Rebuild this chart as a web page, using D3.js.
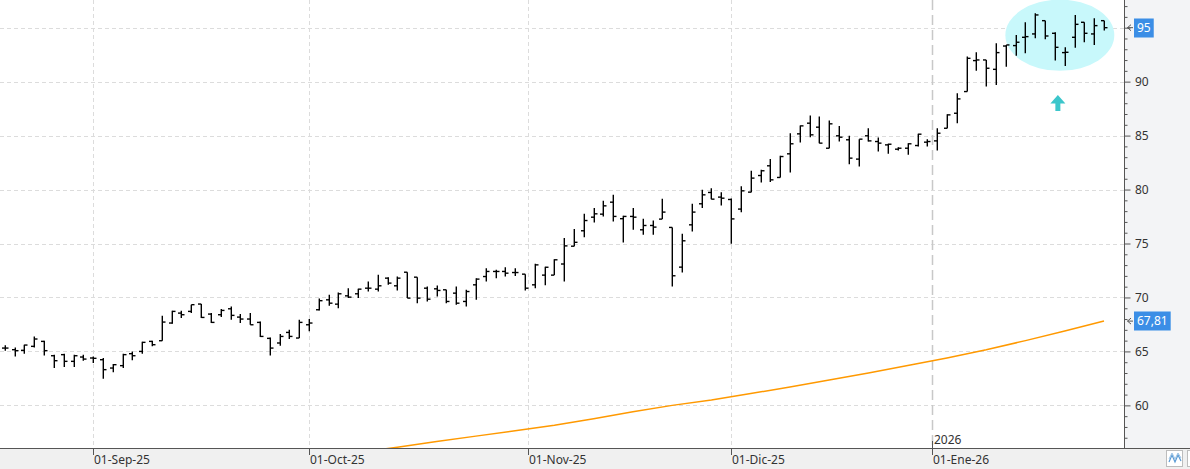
<!DOCTYPE html>
<html>
<head>
<meta charset="utf-8">
<script src="https://cdn.jsdelivr.net/npm/d3@7"></script>
<style>
  html, body { margin: 0; padding: 0; background: #fff; }
  svg { display: block; font-family: "Segoe UI", "Noto Sans", "DejaVu Sans", sans-serif; }
</style>
</head>
<body>
<svg id="chart" width="1190" height="469"></svg>
<script>
// ---------- DATA ----------
const startDate = "2025-08-19";
const holidays = ["2025-12-25", "2025-12-26", "2026-01-01"];
const barCount = 113;

const openV = [65.31,65.16,65.10,65.47,65.93,64.60,64.70,64.08,64.48,64.39,64.23,63.46,63.68,64.79,65.00,65.93,65.99,67.63,68.55,68.71,
  69.39,68.46,68.40,68.95,68.18,68.00,67.69,66.21,65.78,66.76,66.24,67.47,68.86,69.78,69.38,70.15,70.34,70.86,70.77,71.79,
  71.08,72.34,71.88,70.86,70.80,70.71,70.40,69.63,71.17,71.94,72.41,72.41,72.31,72.16,71.17,72.07,72.07,73.10,74.75,76.18,
  77.44,77.72,78.83,77.30,77.51,76.27,76.67,77.26,76.49,72.81,76.73,78.68,79.73,79.30,79.08,78.19,79.76,81.30,82.20,81.12,
  83.31,85.16,86.15,85.78,83.83,84.98,84.61,82.82,84.98,84.45,84.14,83.74,83.83,84.08,84.39,84.51,85.68,87.07,89.08,91.95,
  92.01,91.14,93.30,93.34,94.11,94.42,95.65,94.48,92.69,94.11,95.50,94.42,95.65];
const highV = [65.56,65.37,65.62,66.39,65.99,64.70,64.79,64.70,64.70,64.54,64.39,63.83,64.79,65.00,65.90,65.99,68.31,68.77,68.77,69.33,
  69.39,68.55,68.92,69.17,68.46,68.55,67.78,66.30,66.61,67.01,67.94,68.00,69.90,70.25,70.46,70.86,70.80,71.48,72.10,71.88,
  71.94,72.34,71.88,71.02,71.11,70.71,71.02,70.71,71.79,72.71,72.56,72.81,72.71,72.16,73.12,72.84,73.55,75.52,76.35,77.75,
  78.28,78.96,79.51,77.57,78.28,77.29,77.13,79.14,76.49,75.90,78.68,79.97,80.13,79.76,79.17,80.30,81.74,81.83,82.82,83.13,
  85.22,85.93,86.86,86.77,86.40,85.90,84.98,84.67,85.69,84.82,84.24,83.93,84.30,85.16,84.67,85.69,86.98,88.92,92.32,92.72,
  92.01,93.55,93.40,94.32,95.50,96.33,95.65,94.57,93.18,96.18,95.50,95.87,95.65];
const lowV = [65.07,64.54,64.79,65.37,64.63,63.46,63.55,63.55,64.14,63.92,62.47,63.06,63.46,64.17,64.79,65.47,65.99,67.57,68.09,68.55,
  68.09,67.63,68.18,67.94,67.63,67.47,66.33,64.63,65.53,66.15,66.24,66.86,68.80,69.23,69.01,69.94,69.94,70.55,70.55,71.17,
  70.65,69.94,69.47,69.63,70.09,69.47,69.32,69.16,69.78,71.48,71.79,71.94,72.00,70.65,70.86,71.13,72.07,71.48,74.75,75.59,
  76.95,77.51,77.04,75.10,76.27,75.81,75.81,77.26,71.02,72.32,76.12,78.28,79.11,78.52,74.98,77.90,79.76,80.66,80.69,81.12,
  81.58,84.36,84.85,84.30,83.83,84.45,82.35,82.14,84.45,83.53,83.31,83.62,83.22,83.99,83.99,83.62,85.68,86.15,89.08,91.02,
  89.54,89.69,91.39,92.41,92.63,94.02,93.92,91.95,91.45,93.15,93.65,93.40,94.73];
const closeV = [65.31,65.07,65.59,66.15,65.07,64.14,64.08,64.60,64.29,64.36,63.31,63.77,64.70,64.60,65.84,65.62,67.72,68.71,68.40,69.33,
  68.15,67.69,68.80,68.34,68.00,67.47,66.39,65.31,66.39,66.39,67.69,67.63,69.70,69.47,70.34,70.03,70.77,70.86,71.08,71.33,
  71.79,69.94,69.94,69.84,70.65,69.63,69.47,70.55,71.70,72.41,72.41,72.25,72.31,70.86,73.02,72.80,73.49,74.78,75.11,77.13,
  77.75,78.49,77.51,77.51,77.44,76.67,76.52,77.91,72.01,75.25,77.91,79.51,79.11,79.20,77.28,79.88,81.06,81.74,80.90,83.06,
  84.24,85.90,85.07,84.30,86.09,84.85,82.91,84.67,84.51,84.30,84.20,83.83,84.24,85.13,84.45,85.22,86.92,88.40,92.16,92.01,
  91.24,92.69,93.40,93.65,94.17,96.18,94.23,93.18,92.72,95.31,94.48,95.19,95.00];

// moving average, read at selected bars
const maIndex = [34, 40, 44, 48, 52, 56, 60, 64, 68, 72, 76, 80, 84, 88, 92, 96, 100, 104, 108, 112];
const maValue = [55.4, 56.12, 56.65, 57.15, 57.65, 58.15, 58.75, 59.4, 60.0, 60.5, 61.1, 61.7, 62.35, 63.0, 63.7, 64.4, 65.15, 66.0, 66.9, 67.81];

const yTicksMajor = [60, 65, 70, 75, 80, 85, 90, 95];
const monthTicks = ["2025-09-01", "2025-10-01", "2025-11-01", "2025-12-01", "2026-01-01"];
const monthLabels = ["01-Sep-25", "01-Oct-25", "01-Nov-25", "01-Dic-25", "01-Ene-26"];
const yearSeparator = "2026-01-01";
const yearLabel = "2026";

// highlight ellipse (in data units) and arrow anchor
const highlightCenter = [107.5, 94.3];
const highlightRadius = [5.55, 3.3];
const arrowAnchor = [107.3, 88.77];

// ---------- DATES ----------
const parse = d3.utcParse("%Y-%m-%d");
const fmtD = d3.utcFormat("%Y-%m-%d");
const dates = [];
{
  let d = parse(startDate);
  while (dates.length < barCount) {
    const wd = d.getUTCDay();
    if (wd !== 0 && wd !== 6 && !holidays.includes(fmtD(d))) dates.push(new Date(d));
    d = d3.utcDay.offset(d, 1);
  }
}
// fractional bar index for any calendar date (interpolated between trading days)
function dateIndex(str) {
  const t = parse(str).getTime();
  for (let i = 0; i < dates.length; i++) {
    if (dates[i].getTime() === t) return i;
    if (dates[i].getTime() > t) {
      const a = dates[i - 1].getTime(), b = dates[i].getTime();
      return i - 1 + (t - a) / (b - a);
    }
  }
  return dates.length - 1;
}

// ---------- LAYOUT ----------
const W = 1190, H = 469;
const plotRight = 1124, plotBottom = 448;
const svg = d3.select("#chart");

const x = d3.scaleLinear().domain([0, 112]).range([4.8, 1104]);
const y = d3.scaleLinear().domain([56.05, 97.565]).range([plotBottom, 0]);

// backgrounds
svg.append("rect").attr("x", 0).attr("y", 0).attr("width", W).attr("height", H).attr("fill", "#fff");
svg.append("rect").attr("x", plotRight).attr("y", 0).attr("width", W - plotRight).attr("height", plotBottom).attr("fill", "#f3f4f6");
svg.append("rect").attr("x", 0).attr("y", plotBottom).attr("width", W).attr("height", H - plotBottom).attr("fill", "#f0f0f0");

svg.append("defs").append("clipPath").attr("id", "clip")
  .append("rect").attr("x", 0).attr("y", 0).attr("width", plotRight).attr("height", plotBottom);
const plot = svg.append("g").attr("clip-path", "url(#clip)");

// horizontal grid
plot.append("g").selectAll("line").data(yTicksMajor).join("line")
  .attr("x1", 0).attr("x2", plotRight)
  .attr("y1", d => Math.round(y(d)) + 0.5).attr("y2", d => Math.round(y(d)) + 0.5)
  .attr("stroke", "#dcdcdc").attr("stroke-dasharray", "4,3");

// vertical month grid
plot.append("g").selectAll("line").data(monthTicks.filter(m => m !== yearSeparator)).join("line")
  .attr("x1", d => Math.round(x(dateIndex(d))) + 0.5).attr("x2", d => Math.round(x(dateIndex(d))) + 0.5)
  .attr("y1", 0).attr("y2", plotBottom)
  .attr("stroke", "#dcdcdc").attr("stroke-dasharray", "4,3");

// year separator
const ysx = Math.round(x(dateIndex(yearSeparator))) + 0.5;
plot.append("line").attr("x1", ysx).attr("x2", ysx).attr("y1", 0).attr("y2", plotBottom)
  .attr("stroke", "#c8c8c8").attr("stroke-width", 1.5).attr("stroke-dasharray", "10,5");
svg.append("text").attr("x", ysx + 1.5).attr("y", 444).attr("font-size", 12).attr("fill", "#333").text(yearLabel);

// highlight ellipse
plot.append("ellipse")
  .attr("cx", x(highlightCenter[0])).attr("cy", y(highlightCenter[1]))
  .attr("rx", x(highlightCenter[0] + highlightRadius[0]) - x(highlightCenter[0]))
  .attr("ry", y(highlightCenter[1] - highlightRadius[1]) - y(highlightCenter[1]))
  .attr("fill", "#c8f8fb");

// moving average
const ma = maIndex.map((d, i) => [d, maValue[i]]);
plot.append("path").datum(ma)
  .attr("d", d3.line().x(d => x(d[0])).y(d => y(d[1])))
  .attr("fill", "none").attr("stroke", "#ff9900").attr("stroke-width", 1.5);

// OHLC bars
const bars = d3.range(barCount).map(i => ({ i, o: openV[i], h: highV[i], l: lowV[i], c: closeV[i] }));
const bg = plot.append("g").attr("stroke", "#000").attr("stroke-width", 1.4).attr("fill", "none");
const bar = bg.selectAll("g").data(bars).join("g");
bar.append("line")
  .attr("x1", d => Math.round(x(d.i)) + 0.3).attr("x2", d => Math.round(x(d.i)) + 0.3)
  .attr("y1", d => y(d.h)).attr("y2", d => y(d.l));
bar.append("line")
  .attr("x1", d => Math.round(x(d.i)) - 3).attr("x2", d => Math.round(x(d.i)) + 0.3)
  .attr("y1", d => y(d.o)).attr("y2", d => y(d.o));
bar.append("line")
  .attr("x1", d => Math.round(x(d.i)) + 0.3).attr("x2", d => Math.round(x(d.i)) + 3.5)
  .attr("y1", d => y(d.c)).attr("y2", d => y(d.c));

// arrow
const ax = x(arrowAnchor[0]), ay = y(arrowAnchor[1]);
plot.append("path")
  .attr("d", `M${ax},${ay} L${ax + 7.5},${ay + 8.5} L${ax + 2.5},${ay + 8.5} L${ax + 2.5},${ay + 16} L${ax - 2.5},${ay + 16} L${ax - 2.5},${ay + 8.5} L${ax - 7.5},${ay + 8.5} Z`)
  .attr("fill", "#3cc6cb");

// ---------- AXES ----------
svg.append("line").attr("x1", 0).attr("x2", W).attr("y1", plotBottom + 0.5).attr("y2", plotBottom + 0.5).attr("stroke", "#555");
svg.append("line").attr("x1", plotRight + 0.5).attr("x2", plotRight + 0.5).attr("y1", 0).attr("y2", plotBottom).attr("stroke", "#555");

// right axis ticks
const yAxis = d3.axisRight(y).tickValues(d3.range(57, 98, 1)).tickSize(3).tickFormat("");
const yAxisG = svg.append("g").attr("transform", `translate(${plotRight + 0.5},0)`).call(yAxis);
yAxisG.select(".domain").remove();
yAxisG.selectAll("line").attr("stroke", "#555");
yAxisG.selectAll(".tick").filter(d => d % 5 === 0).select("line").attr("x2", 6);

svg.append("g").selectAll("text").data(yTicksMajor).join("text")
  .attr("x", 1135).attr("y", d => y(d)).attr("dy", "0.36em")
  .attr("font-size", 12).attr("fill", "#333").text(d => d);

// bottom month ticks
const xt = svg.append("g");
monthTicks.forEach((m, k) => {
  const px = Math.round(x(dateIndex(m))) + 0.5;
  xt.append("line").attr("x1", px).attr("x2", px).attr("y1", plotBottom - (m === yearSeparator ? 7 : 0)).attr("y2", plotBottom + 7)
    .attr("stroke", "#555");
  xt.append("text").attr("x", px + 0.5).attr("y", 464).attr("font-size", 12).attr("fill", "#333").text(monthLabels[k]);
});

// value labels
const fmtVal = v => d3.format(".2~f")(v).replace(".", ",");
function valueLabel(v) {
  const py = y(v);
  const g = svg.append("g");
  const t = g.append("text").attr("x", 1137).attr("y", py).attr("dy", "0.36em")
    .attr("font-size", 12).attr("fill", "#fff").text(fmtVal(v));
  const w = t.node().getComputedTextLength();
  g.insert("rect", "text").attr("x", 1134).attr("y", Math.round(py) - 9.5).attr("width", w + 6).attr("height", 19).attr("fill", "#3b8ee6");
  svg.append("path").attr("d", `M1131,${py - 3} L1127.5,${py} L1131,${py + 3} M1127.5,${py} L1133,${py}`)
    .attr("fill", "none").attr("stroke", "#555").attr("stroke-width", 1);
}
valueLabel(closeV[closeV.length - 1]);
valueLabel(maValue[maValue.length - 1]);

// bottom-right icon
const ic = svg.append("g");
ic.append("rect").attr("x", 1166.5).attr("y", 450.5).attr("width", 16).attr("height", 16).attr("fill", "#fff").attr("stroke", "#bdbdbd");
ic.append("path").attr("d", "M1169,462 L1172,455 L1175,462 L1178,455 L1181,461").attr("fill", "none").attr("stroke", "#5b9bd5").attr("stroke-width", 1.2);
ic.append("path").attr("d", "M1169,459 L1172,453 L1175,459 L1178,453 L1181,458").attr("fill", "none").attr("stroke", "#9cc3e6").attr("stroke-width", 1);
ic.append("rect").attr("x", 1187.5).attr("y", 450.5).attr("width", 16).attr("height", 16).attr("fill", "#fff").attr("stroke", "#bdbdbd");
</script>
</body>
</html>
